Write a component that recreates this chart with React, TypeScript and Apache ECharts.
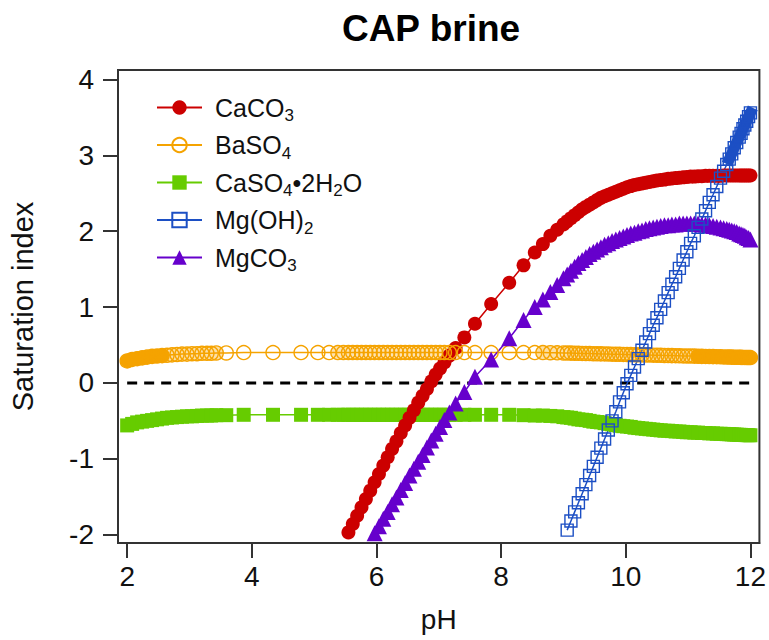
import React, { useEffect, useRef } from "react";
import * as echarts from "echarts";

// pH steps of the titration (shared by every mineral)
const pH = [
  2.0, 2.08, 2.16, 2.24, 2.32, 2.4, 2.48, 2.56, 2.64, 2.72, 2.8, 2.88, 2.96, 3.04, 3.12, 3.2,
  3.28, 3.35, 3.43, 3.59, 3.87, 4.34, 4.79, 5.06, 5.24, 5.38,
  5.47, 5.55, 5.62, 5.69, 5.76, 5.83, 5.9, 5.97, 6.04, 6.11, 6.18, 6.25, 6.32, 6.39, 6.46,
  6.53, 6.6, 6.67, 6.74, 6.81, 6.88, 6.95, 7.02, 7.09, 7.17,
  7.27, 7.41, 7.58, 7.84, 8.13, 8.36, 8.54, 8.67, 8.79, 8.9,
  9.0, 9.06, 9.12, 9.18, 9.24, 9.3, 9.36, 9.42, 9.48, 9.54,
  9.6, 9.66, 9.72, 9.78, 9.84, 9.9, 9.96, 10.02, 10.08, 10.14,
  10.2, 10.26, 10.32, 10.38, 10.44, 10.5, 10.56, 10.62, 10.68, 10.74,
  10.8, 10.86, 10.92, 10.98, 11.04, 11.1, 11.16, 11.22, 11.28, 11.34,
  11.4, 11.46,
  11.52, 11.57, 11.62, 11.66, 11.7, 11.74, 11.78, 11.82, 11.85, 11.88, 11.91, 11.94, 11.97, 12.0,
];

// Saturation indices; each list runs up to the last pH step (pH 12)
const siBaSO4 = [
  0.29, 0.31, 0.32, 0.33, 0.34, 0.35, 0.355, 0.36, 0.365, 0.37, 0.375, 0.38, 0.38, 0.385, 0.385, 0.39,
  0.39, 0.39, 0.395, 0.395, 0.4, 0.4, 0.4, 0.4, 0.4, 0.4,
  0.4, 0.4, 0.4, 0.4, 0.4, 0.4, 0.4, 0.4, 0.4, 0.4, 0.4, 0.4, 0.4, 0.4, 0.4,
  0.4, 0.4, 0.4, 0.4, 0.4, 0.4, 0.4, 0.4, 0.4, 0.4,
  0.4, 0.4, 0.4, 0.4, 0.4, 0.4, 0.4, 0.4, 0.398, 0.397,
  0.395, 0.394, 0.393, 0.391, 0.39, 0.389, 0.388, 0.387, 0.385, 0.384,
  0.383, 0.382, 0.381, 0.379, 0.378, 0.377, 0.376, 0.375, 0.373, 0.372,
  0.371, 0.37, 0.368, 0.367, 0.366, 0.365, 0.364, 0.362, 0.361, 0.36,
  0.359, 0.358, 0.356, 0.355, 0.354, 0.353, 0.352, 0.35, 0.349, 0.348,
  0.347, 0.346,
  0.344, 0.343, 0.342, 0.341, 0.34, 0.339, 0.338, 0.338, 0.337, 0.336, 0.336, 0.335, 0.334, 0.334,
];

const siGypsum = [
  -0.56, -0.54, -0.52, -0.51, -0.5, -0.49, -0.48, -0.47, -0.46, -0.455, -0.45, -0.445, -0.44, -0.44, -0.435, -0.43,
  -0.43, -0.43, -0.425, -0.425, -0.42, -0.42, -0.42, -0.42, -0.42, -0.42,
  -0.42, -0.42, -0.42, -0.42, -0.42, -0.42, -0.42, -0.42, -0.42, -0.42, -0.42, -0.42, -0.42, -0.42, -0.42,
  -0.42, -0.42, -0.42, -0.42, -0.42, -0.42, -0.42, -0.42, -0.42, -0.42,
  -0.42, -0.42, -0.42, -0.42, -0.42, -0.425, -0.43, -0.43, -0.435, -0.44,
  -0.45, -0.455, -0.46, -0.47, -0.48, -0.485, -0.49, -0.5, -0.51, -0.515,
  -0.52, -0.53, -0.54, -0.545, -0.555, -0.565, -0.57, -0.575, -0.58, -0.59,
  -0.595, -0.6, -0.605, -0.61, -0.615, -0.62, -0.625, -0.63, -0.63, -0.635,
  -0.64, -0.64, -0.645, -0.65, -0.65, -0.655, -0.655, -0.66, -0.66, -0.665,
  -0.665, -0.67,
  -0.67, -0.672, -0.675, -0.676, -0.678, -0.68, -0.682, -0.684, -0.685, -0.686, -0.687, -0.688, -0.689, -0.69,
];

const siCaCO3 = [
  -1.97, -1.86, -1.75, -1.64, -1.53, -1.42, -1.31, -1.2, -1.09, -0.98,
  -0.87, -0.77, -0.66, -0.56, -0.46, -0.36, -0.26, -0.17, -0.08, 0.02,
  0.11, 0.19, 0.27, 0.36,
  0.46, 0.6, 0.78, 1.04, 1.32, 1.55, 1.72, 1.83, 1.94, 2.02,
  2.09, 2.13, 2.17, 2.21, 2.25, 2.29, 2.32, 2.35, 2.38, 2.41,
  2.44, 2.46, 2.48, 2.5, 2.52, 2.54, 2.56, 2.58, 2.595, 2.61,
  2.62, 2.63, 2.64, 2.65, 2.66, 2.67, 2.675, 2.68, 2.69, 2.695,
  2.7, 2.705, 2.71, 2.715, 2.72, 2.72, 2.725, 2.725, 2.73, 2.73,
  2.73, 2.73,
  2.73, 2.735, 2.735, 2.735, 2.735, 2.735, 2.735, 2.735, 2.735, 2.735, 2.735, 2.735, 2.735, 2.735,
];

const siMgCO3 = [
  -1.98, -1.89, -1.79, -1.7, -1.6, -1.51, -1.41, -1.32, -1.22, -1.13,
  -1.04, -0.95, -0.85, -0.76, -0.67, -0.58, -0.49, -0.39,
  -0.27, -0.12, 0.08, 0.31, 0.59, 0.83, 1.0, 1.1, 1.2, 1.29,
  1.38, 1.43, 1.48, 1.53, 1.58, 1.62, 1.66, 1.7, 1.73, 1.76,
  1.79, 1.82, 1.84, 1.87, 1.89, 1.91, 1.93, 1.95, 1.97, 1.98,
  2.0, 2.01, 2.03, 2.04, 2.05, 2.06, 2.07, 2.08, 2.08, 2.09,
  2.09, 2.1, 2.1, 2.1, 2.1, 2.1, 2.1, 2.09, 2.09, 2.08,
  2.07, 2.06,
  2.05, 2.04, 2.03, 2.02, 2.01, 2.0, 1.99, 1.97, 1.96, 1.95, 1.94, 1.92, 1.91, 1.89,
];

const siBrucite = [
  -1.94, -1.82, -1.7, -1.58, -1.46, -1.34, -1.22, -1.1, -0.98,
  -0.86, -0.74, -0.62, -0.5, -0.38, -0.25, -0.13, -0.01, 0.1, 0.21,
  0.32, 0.43, 0.54, 0.65, 0.76, 0.86, 0.97, 1.08, 1.19, 1.3,
  1.4, 1.51, 1.62, 1.73, 1.84, 1.94, 2.05, 2.16, 2.27, 2.38,
  2.48, 2.59,
  2.7, 2.79, 2.88, 2.95, 3.02, 3.1, 3.17, 3.24, 3.29, 3.35, 3.4, 3.45, 3.51, 3.56,
];

const xTicks = [2, 4, 6, 8, 10, 12];
const yTicks = [-2, -1, 0, 1, 2, 3, 4];
const zeroLine = [
  [2, 0],
  [12, 0],
];

const FONT = "'Liberation Sans', Arial, Helvetica, sans-serif";
const RED = "#cc0000";
const ORANGE = "#f5a300";
const GREEN = "#66cc00";
const BLUE = "#1c4fc4";
const PURPLE = "#6600cc";

// pair a saturation-index list with the tail of the pH steps
function toPoints(si: number[]) {
  const offset = pH.length - si.length;
  return si.map((v, i) => [pH[offset + i], v]);
}

const legendText: Record<string, string> = {
  CaCO3: "{n|CaCO}{s|3}",
  BaSO4: "{n|BaSO}{s|4}",
  "CaSO4•2H2O": "{n|CaSO}{s|4}{n|•2H}{s|2}{n|O}",
  "Mg(OH)2": "{n|Mg(OH)}{s|2}",
  MgCO3: "{n|MgCO}{s|3}",
};

export default function App() {
  const ref = useRef<HTMLDivElement>(null);

  useEffect(() => {
    if (!ref.current) return;
    const chart = echarts.init(ref.current, null, { renderer: "svg" });

    const lineSeries = (
      name: string,
      si: number[],
      color: string,
      symbol: string,
      symbolSize: number,
      hollow: boolean
    ) => ({
      name,
      type: "line",
      data: toPoints(si),
      symbol,
      symbolSize,
      showAllSymbol: true,
      lineStyle: { color, width: 1.5 },
      itemStyle: hollow
        ? { color: "rgba(255,255,255,0)", borderColor: color, borderWidth: 1.4 }
        : { color, borderWidth: 0 },
      emphasis: { disabled: true },
      silent: true,
    });

    // where markers crowd together they merge into a continuous band
    const band = (
      si: number[],
      from: number,
      to: number,
      color: string,
      width: number,
      cap: string,
      opacity: number
    ) => ({
      type: "line",
      data: toPoints(si).filter((p) => p[0] >= from && p[0] <= to),
      symbol: "none",
      silent: true,
      lineStyle: { color, width, cap, join: "round", opacity },
      emphasis: { disabled: true },
    });

    chart.setOption({
      animation: false,
      backgroundColor: "#ffffff",
      graphic: [
        {
          type: "text",
          x: 431,
          y: 28,
          style: {
            text: "CAP brine",
            textAlign: "center",
            textVerticalAlign: "middle",
            fontFamily: FONT,
            fontWeight: "bold",
            fontSize: 37,
            fill: "#000",
          },
        },
      ],
      grid: {
        left: 118,
        right: 8,
        top: 70,
        bottom: 97,
        show: true,
        borderColor: "#333",
        borderWidth: 2,
        backgroundColor: "transparent",
      },
      legend: {
        data: ["CaCO3", "BaSO4", "CaSO4•2H2O", "Mg(OH)2", "MgCO3"],
        orient: "vertical",
        left: 151,
        top: 86,
        itemWidth: 45,
        itemHeight: 18,
        itemGap: 4.5,
        selectedMode: false,
        formatter: (name: string) => legendText[name] || name,
        textStyle: {
          padding: [0, 0, 0, 8],
          rich: {
            n: { fontFamily: FONT, fontSize: 25, lineHeight: 30, color: "#111" },
            s: {
              fontFamily: FONT,
              fontSize: 17,
              lineHeight: 30,
              padding: [16, 0, 0, 0],
              color: "#111",
            },
          },
        },
      },
      xAxis: {
        type: "value",
        min: 1.853,
        max: 12.144,
        name: "pH",
        nameLocation: "middle",
        nameGap: 62,
        nameTextStyle: { fontFamily: FONT, fontSize: 28, color: "#111" },
        axisLine: { show: true, onZero: false, lineStyle: { color: "#333", width: 2 } },
        axisTick: {
          show: true,
          inside: false,
          length: 15,
          customValues: xTicks,
          lineStyle: { color: "#333", width: 2 },
        },
        axisLabel: {
          customValues: xTicks,
          margin: 19,
          fontFamily: FONT,
          fontSize: 28,
          color: "#111",
        },
        splitLine: { show: false },
      },
      yAxis: {
        type: "value",
        min: -2.11,
        max: 4.125,
        name: "Saturation index",
        nameLocation: "middle",
        nameRotate: 90,
        nameGap: 81,
        nameTextStyle: { fontFamily: FONT, fontSize: 29, color: "#111" },
        axisLine: { show: true, onZero: false, lineStyle: { color: "#333", width: 2 } },
        axisTick: {
          show: true,
          inside: false,
          length: 15,
          customValues: yTicks,
          lineStyle: { color: "#333", width: 2 },
        },
        axisLabel: {
          customValues: yTicks,
          margin: 24,
          fontFamily: FONT,
          fontSize: 28,
          color: "#111",
        },
        splitLine: { show: false },
      },
      series: [
        {
          name: "zero",
          type: "line",
          data: zeroLine,
          symbol: "none",
          silent: true,
          lineStyle: { color: "#000", width: 3, type: [10, 7] },
          emphasis: { disabled: true },
        },
        lineSeries("CaSO4•2H2O", siGypsum, GREEN, "rect", 14, false),
        lineSeries("CaCO3", siCaCO3, RED, "circle", 14, false),
        band(siBaSO4, 2.0, 2.56, ORANGE, 14, "round", 1),
        band(siBaSO4, 2.56, 3.43, ORANGE, 14, "round", 0.35),
        band(siBaSO4, 5.38, 7.27, ORANGE, 14, "round", 0.3),
        band(siBaSO4, 8.67, 11.16, ORANGE, 14, "round", 0.35),
        band(siBaSO4, 11.16, 12.0, ORANGE, 14, "round", 1),
        lineSeries("BaSO4", siBaSO4, ORANGE, "circle", 14, true),
        lineSeries("MgCO3", siMgCO3, PURPLE, "triangle", 16, false),
        band(siBrucite, 11.66, 12.0, BLUE, 11, "square", 1),
        lineSeries("Mg(OH)2", siBrucite, BLUE, "rect", 12, true),
      ],
    });

    return () => chart.dispose();
  }, []);

  return (
    <div
      ref={ref}
      style={{ position: "absolute", left: 0, top: 0, width: 769, height: 640 }}
    />
  );
}
